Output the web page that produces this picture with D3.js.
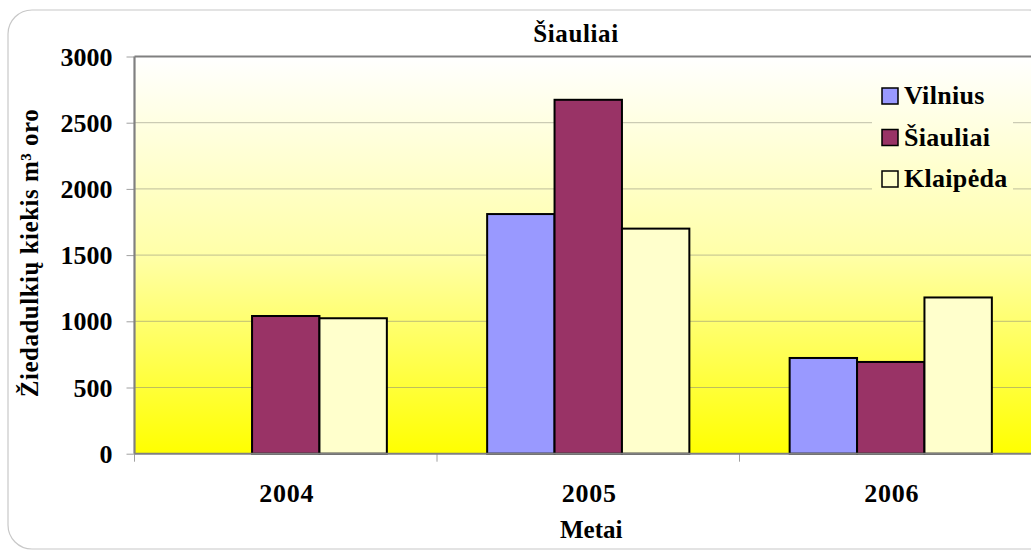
<!DOCTYPE html>
<html>
<head>
<meta charset="utf-8">
<script src="https://cdn.jsdelivr.net/npm/d3@7"></script>
<style>
html,body{margin:0;padding:0;background:#fff;}
svg{display:block;}
text{font-family:"Liberation Serif","Times New Roman",serif;font-weight:bold;fill:#000;}
</style>
</head>
<body>
<svg id="chart" width="1031" height="551"></svg>
<script>
const years = ["2004", "2005", "2006"];
const seriesNames = ["Vilnius", "Šiauliai", "Klaipėda"];
const vilnius = [null, 1810, 723];
const siauliai = [1040, 2673, 693];
const klaipeda = [1023, 1700, 1180];
const yTicks = [0, 500, 1000, 1500, 2000, 2500, 3000];
const colors = ["#9999FF", "#993366", "#FFFFCC"];
const chartTitle = "Šiauliai";
const xTitle = "Metai";
const yTitle = "Žiedadulkių kiekis m³ oro";

const seriesValues = [vilnius, siauliai, klaipeda];
const svg = d3.select("#chart");
const plot = {left: 134.5, right: 1042, top: 56.5, bottom: 453.7};
const FONT = '"Liberation Serif","Times New Roman",serif';

const defs = svg.append("defs");
const grad = defs.append("linearGradient").attr("id", "bg")
  .attr("gradientUnits", "userSpaceOnUse")
  .attr("x1", 0).attr("y1", plot.top).attr("x2", 0).attr("y2", plot.bottom);
grad.append("stop").attr("offset", "0").attr("stop-color", "#FFFFFF");
grad.append("stop").attr("offset", "0.5").attr("stop-color", "#FFFFA8");
grad.append("stop").attr("offset", "1").attr("stop-color", "#FFFF00");

// outer chart border
svg.append("rect").attr("x", 8).attr("y", 10).attr("width", 1045).attr("height", 539)
  .attr("rx", 24).attr("fill", "#fff").attr("stroke", "#c8c8c8").attr("stroke-width", 1.2);

const x = d3.scaleBand().domain(years).range([plot.left, plot.right]).padding(0);
const x1 = d3.scaleBand().domain(seriesNames).range([0, x.bandwidth()]).paddingInner(0).paddingOuter(0.744);
const y = d3.scaleLinear().domain([0, 3000]).range([plot.bottom, plot.top]);

// plot background
svg.append("rect").attr("x", plot.left).attr("y", plot.top)
  .attr("width", plot.right - plot.left).attr("height", plot.bottom - plot.top)
  .attr("fill", "url(#bg)");

// gridlines
svg.append("g").selectAll("line").data(yTicks.filter(t => t > 0 && t < 3000)).join("line")
  .attr("x1", plot.left).attr("x2", plot.right)
  .attr("y1", d => y(d)).attr("y2", d => y(d))
  .attr("stroke", "#8a8a7a").attr("stroke-opacity", 0.55).attr("stroke-width", 1);

// y axis
const yAxis = d3.axisLeft(y).tickValues(yTicks).tickSize(8).tickFormat(d3.format("d"));
const gy = svg.append("g").attr("transform", `translate(${plot.left},0)`).call(yAxis);
gy.select(".domain").remove();
gy.selectAll(".tick line").attr("stroke", "#a0a0a0").attr("stroke-width", 1);
gy.selectAll(".tick text").attr("x", -22).attr("dy", "0.33em")
  .style("font-size", "26px").style("letter-spacing", "0px")
  .style("font-family", FONT).style("font-weight", "bold")
  .attr("fill", "#000");

// x axis
const xAxis = d3.axisBottom(x).tickSize(0).tickSizeOuter(0);
const gx = svg.append("g").attr("transform", `translate(0,${plot.bottom})`).call(xAxis);
gx.select(".domain").remove();
gx.selectAll(".tick text").attr("y", 0).attr("dy", 0)
  .attr("transform", "translate(1,48.5)")
  .style("font-size", "26px").style("letter-spacing", "0.8px")
  .style("font-family", FONT).style("font-weight", "bold")
  .attr("fill", "#000");
// category separator ticks
svg.append("g").selectAll("line").data(years).join("line")
  .attr("x1", d => x(d)).attr("x2", d => x(d))
  .attr("y1", plot.bottom).attr("y2", plot.bottom + 8)
  .attr("stroke", "#a0a0a0").attr("stroke-width", 1);

// bars
const rows = [];
seriesNames.forEach((s, si) => {
  years.forEach((yr, yi) => {
    const v = seriesValues[si][yi];
    if (v != null) rows.push({s, si, yr, v});
  });
});
svg.append("g").selectAll("rect").data(rows).join("rect")
  .attr("x", d => x(d.yr) + x1(d.s))
  .attr("y", d => y(d.v))
  .attr("width", x1.bandwidth())
  .attr("height", d => plot.bottom - y(d.v))
  .attr("fill", d => colors[d.si])
  .attr("stroke", "#000").attr("stroke-width", 2);

// axis lines
svg.append("line").attr("x1", plot.left).attr("x2", plot.right)
  .attr("y1", plot.bottom).attr("y2", plot.bottom)
  .attr("stroke", "#808080").attr("stroke-width", 2);
svg.append("line").attr("x1", plot.left).attr("x2", plot.left)
  .attr("y1", plot.top).attr("y2", plot.bottom)
  .attr("stroke", "#808080").attr("stroke-width", 2.2);
svg.append("line").attr("x1", plot.left).attr("x2", plot.right)
  .attr("y1", plot.top).attr("y2", plot.top)
  .attr("stroke", "#808080").attr("stroke-width", 2.2);

// legend
const leg = svg.append("g");
leg.append("rect").attr("x", 872).attr("y", 72).attr("width", 141).attr("height", 132)
  .attr("fill", "url(#bg)");
const legY = [96, 137.5, 179];
seriesNames.forEach((s, i) => {
  leg.append("rect").attr("x", 882).attr("y", legY[i] - 8).attr("width", 16).attr("height", 16)
    .attr("fill", colors[i]).attr("stroke", "#000").attr("stroke-width", 1.5);
  leg.append("text").attr("x", 904).attr("y", legY[i] + 8)
    .style("font-size", "26px").style("letter-spacing", "0.3px").text(s);
});

// titles
svg.append("text").attr("x", 576).attr("y", 42).attr("text-anchor", "middle")
  .style("font-size", "25px").style("letter-spacing", "0.6px").text(chartTitle);
svg.append("text").attr("x", (plot.left + plot.right) / 2 + 3).attr("y", 538).attr("text-anchor", "middle")
  .style("font-size", "25px").text(xTitle);
svg.append("text").attr("transform", "translate(38,253) rotate(-90)").attr("text-anchor", "middle")
  .style("font-size", "25px").style("letter-spacing", "0.5px").text(yTitle);
</script>
</body>
</html>
